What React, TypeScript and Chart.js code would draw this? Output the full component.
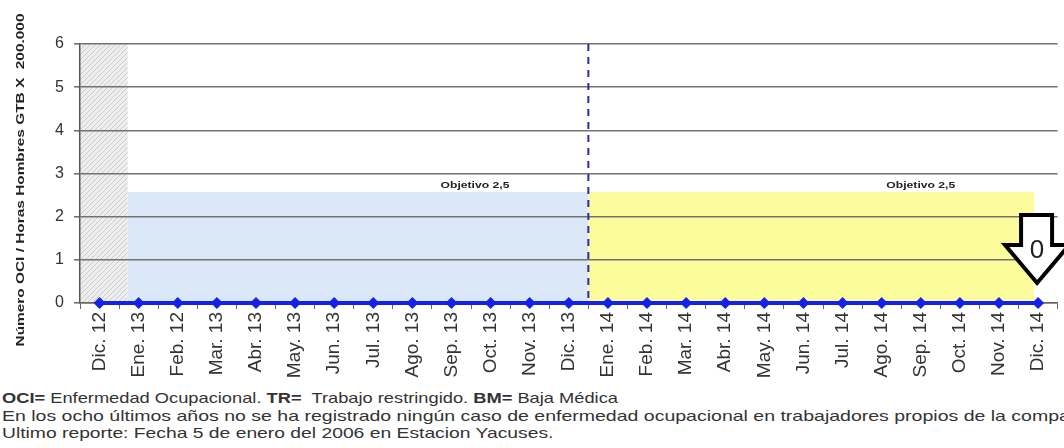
import React, { useEffect, useRef } from "react";
import { Chart, registerables } from "chart.js";

Chart.register(...registerables);

const categories = [
  "Dic. 12", "Ene. 13", "Feb. 12", "Mar. 13", "Abr. 13", "May. 13", "Jun. 13",
  "Jul. 13", "Ago. 13", "Sep. 13", "Oct. 13", "Nov. 13", "Dic. 13", "Ene. 14",
  "Feb. 14", "Mar. 14", "Abr. 14", "May. 14", "Jun. 14", "Jul. 14", "Ago. 14",
  "Sep. 14", "Oct. 14", "Nov. 14", "Dic. 14",
];
const ociValues = [0, 0, 0, 0, 0, 0, 0, 0, 0, 0, 0, 0, 0, 0, 0, 0, 0, 0, 0, 0, 0, 0, 0, 0, 0];
const yTicks = [0, 1, 2, 3, 4, 5, 6];
const bandFrom = [-0.5, 0.72, 12.5];
const bandTo = [0.72, 12.5, 23.9];
const bandTop = [6, 2.57, 2.57];
const targetLabels = ["Objetivo 2,5", "Objetivo 2,5"];
const separatorIndex = 12.5;
const lastValueLabel = "0";
const yTitle = "Número OCI / Horas Hombres GTB X  200.000";

const FONT = "'Liberation Sans', Arial, sans-serif";

function makeHatch(ctx: CanvasRenderingContext2D) {
  const c = document.createElement("canvas");
  c.width = 5;
  c.height = 5;
  const g = c.getContext("2d")!;
  g.fillStyle = "#eeeeee";
  g.fillRect(0, 0, 5, 5);
  g.strokeStyle = "#cbcbcb";
  g.lineWidth = 1;
  g.beginPath();
  g.moveTo(0, 5);
  g.lineTo(5, 0);
  g.moveTo(-1, 1);
  g.lineTo(1, -1);
  g.moveTo(4, 6);
  g.lineTo(6, 4);
  g.stroke();
  return ctx.createPattern(c, "repeat");
}

const decorPlugin = {
  id: "decor",
  beforeDraw(chart: any) {
    const { ctx, scales } = chart;
    const x = scales.x;
    const y = scales.y;
    ctx.save();
    const fills: any[] = [makeHatch(ctx), "#dbe8f7", "#fdfc9c"];
    const y0 = y.getPixelForValue(0);
    for (let i = 0; i < bandFrom.length; i++) {
      const x0 = x.getPixelForValue(bandFrom[i]);
      const x1 = x.getPixelForValue(bandTo[i]);
      const yt = y.getPixelForValue(bandTop[i]);
      ctx.fillStyle = fills[i];
      ctx.fillRect(x0, yt, x1 - x0, y0 - yt);
    }
    ctx.restore();
  },
  beforeDatasetsDraw(chart: any) {
    const { ctx, scales } = chart;
    const x = scales.x;
    const y = scales.y;
    ctx.save();
    const sx = x.getPixelForValue(separatorIndex);
    ctx.strokeStyle = "#2a2ab0";
    ctx.lineWidth = 2;
    ctx.setLineDash([7, 6]);
    ctx.beginPath();
    ctx.moveTo(sx, y.getPixelForValue(6));
    ctx.lineTo(sx, y.getPixelForValue(0));
    ctx.stroke();
    ctx.setLineDash([]);
    const labelAt = [9.6, 21.0];
    ctx.fillStyle = "#222";
    ctx.font = `bold 9px ${FONT}`;
    ctx.textAlign = "center";
    ctx.textBaseline = "middle";
    for (let i = 0; i < targetLabels.length; i++) {
      const lx = x.getPixelForValue(labelAt[i]);
      const ly = y.getPixelForValue(bandTop[i + 1]) - 7;
      ctx.save();
      ctx.translate(lx, ly);
      ctx.scale(1.35, 1);
      ctx.fillText(targetLabels[i], 0, 0);
      ctx.restore();
    }
    ctx.restore();
  },
  afterDraw(chart: any) {
    const { ctx, scales } = chart;
    const x = scales.x;
    const y = scales.y;
    ctx.save();
    ctx.translate(21, 180);
    ctx.rotate(-Math.PI / 2);
    ctx.scale(1.4, 1);
    ctx.font = `bold 11px ${FONT}`;
    ctx.fillStyle = "#222";
    ctx.textAlign = "center";
    ctx.textBaseline = "middle";
    ctx.fillText(yTitle, 0, 0);
    ctx.restore();

    const last = ociValues.length - 1;
    const px = x.getPixelForValue(last);
    const py = y.getPixelForValue(ociValues[last]);
    ctx.save();
    ctx.beginPath();
    ctx.moveTo(px - 17, py - 88);
    ctx.lineTo(px + 14, py - 88);
    ctx.lineTo(px + 14, py - 58);
    ctx.lineTo(px + 31, py - 58);
    ctx.lineTo(px - 1, py - 20);
    ctx.lineTo(px - 33, py - 58);
    ctx.lineTo(px - 17, py - 58);
    ctx.closePath();
    ctx.fillStyle = "#ffffff";
    ctx.fill();
    ctx.lineWidth = 4;
    ctx.lineJoin = "miter";
    ctx.strokeStyle = "#000";
    ctx.stroke();
    ctx.fillStyle = "#222";
    ctx.font = `26px ${FONT}`;
    ctx.textAlign = "center";
    ctx.textBaseline = "middle";
    ctx.fillText(lastValueLabel, px - 1, py - 52);
    ctx.restore();
  },
};

export default function App() {
  const ref = useRef<HTMLCanvasElement>(null);

  useEffect(() => {
    if (!ref.current) return;
    Chart.defaults.font.family = FONT;
    const chart = new Chart(ref.current, {
      type: "line",
      data: {
        labels: categories,
        datasets: [
          {
            data: ociValues,
            borderColor: "#1422e6",
            backgroundColor: "#1422e6",
            borderWidth: 4,
            pointStyle: "rectRot",
            pointRadius: 6,
            pointBorderWidth: 0,
            fill: false,
            clip: false as any,
          },
        ],
      },
      options: {
        animation: false,
        responsive: false,
        layout: { padding: { top: 44, right: 5, left: 0, bottom: 0 } },
        plugins: {
          legend: { display: false },
          tooltip: { enabled: false },
          title: { display: false },
        },
        scales: {
          x: {
            type: "category",
            offset: true,
            grid: {
              display: true,
              drawOnChartArea: false,
              drawTicks: true,
              tickLength: 6,
              color: "#666",
              offset: true,
            },
            border: { display: true, color: "#666", width: 1.5 },
            ticks: {
              autoSkip: false,
              minRotation: 90,
              maxRotation: 90,
              color: "#333",
              font: { size: 19 },
              padding: 3,
            },
            afterFit: (s: any) => {
              s.height = 87;
            },
          },
          y: {
            min: 0,
            max: 6,
            ticks: { stepSize: 1, color: "#333", font: { size: 16 }, padding: 10 },
            afterBuildTicks: (s: any) => {
              s.ticks = yTicks.map((v) => ({ value: v }));
            },
            grid: { color: "#727272", lineWidth: 1.6, tickLength: 6 },
            border: { color: "#555", width: 1.5 },
            afterFit: (s: any) => {
              s.width = 80;
            },
          },
        },
      },
      plugins: [decorPlugin],
    });
    return () => chart.destroy();
  }, []);

  const lineStyle: React.CSSProperties = {
    position: "absolute",
    left: 2,
    whiteSpace: "nowrap",
    fontFamily: FONT,
    fontSize: 14.5,
    lineHeight: "17.5px",
    color: "#333",
    transformOrigin: "0 0",
  };

  return (
    <div
      style={{
        position: "fixed",
        left: 0,
        top: 0,
        width: 1064,
        height: 448,
        overflow: "hidden",
        background: "#fff",
      }}
    >
      <canvas ref={ref} width={1064} height={390} style={{ position: "absolute", left: 0, top: 0 }} />
      <div style={{ ...lineStyle, top: 390, transform: "scaleX(1.26)" }}>
        <b>OCI=</b> Enfermedad Ocupacional. <b>TR=</b>&nbsp; Trabajo restringido. <b>BM=</b> Baja Médica
      </div>
      <div style={{ ...lineStyle, top: 407.5, transform: "scaleX(1.345)" }}>
        En los ocho últimos años no se ha registrado ningún caso de enfermedad ocupacional en trabajadores propios de la compañía.
      </div>
      <div style={{ ...lineStyle, top: 425, transform: "scaleX(1.33)" }}>
        Ultimo reporte: Fecha 5 de enero del 2006 en Estacion Yacuses.
      </div>
    </div>
  );
}
